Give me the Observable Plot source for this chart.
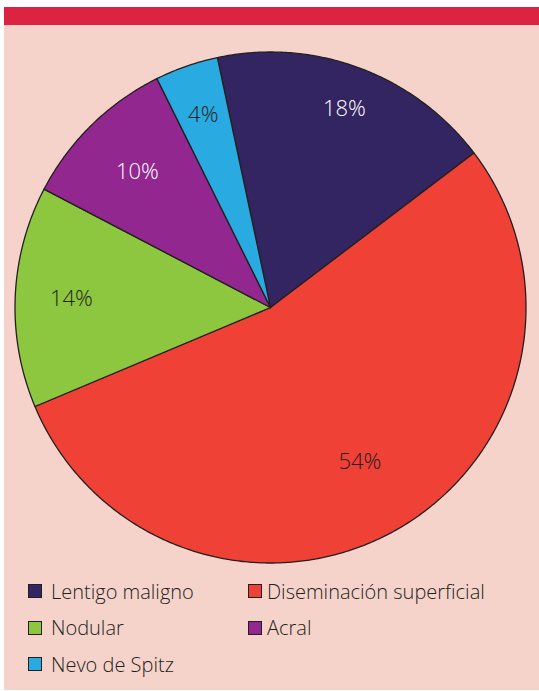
<!DOCTYPE html>
<html><head><meta charset="utf-8">
<script src="https://cdn.jsdelivr.net/npm/d3@7"></script>
<script src="https://cdn.jsdelivr.net/npm/@observablehq/plot@0.6"></script>
<style>
body{margin:0;background:#fff;font-family:"Open Sans",Lato,sans-serif;}
#panel{position:absolute;left:4px;top:7px;width:535px;height:683px;background:#f6d3ca;overflow:hidden;}
#bar{height:18px;background:#dc2340;}
#chart svg{display:block;}
#legend{display:grid;grid-template-columns:220px auto;padding-left:24px;}
.item{display:flex;align-items:center;height:36.5px;font-size:20px;font-weight:350;color:#231f20;white-space:nowrap;}
.sw{width:12px;height:12px;border:1.2px solid #231f20;margin-right:9px;flex:none;}
.col2 .sw{margin-right:5px;}
</style></head>
<body>
<div id="panel"><div id="bar"></div><div id="chart"></div><div id="legend"></div></div>
<script>
const categories = ["Lentigo maligno", "Diseminación superficial", "Nodular", "Acral", "Nevo de Spitz"];
const values = [18, 54, 14, 10, 4];
const colors = ["#332561", "#ef4136", "#8dc63f", "#92278f", "#29abe2"];
const legendOrder = ["Lentigo maligno", "Diseminación superficial", "Nodular", "Acral", "Nevo de Spitz"];

// layout
const startDeg = -12;
const labelRadius = [0.83, 0.70, 0.78, 0.745, 0.80];

const total = d3.sum(values);
let acc = startDeg;
const slices = categories.map((c, i) => {
  const a0 = acc, a1 = acc + values[i] / total * 360;
  acc = a1;
  return {key: c, value: values[i], a0, a1, mid: (a0 + a1) / 2, i};
});
const rad = d => d * Math.PI / 180;
const pts = [];
for (const s of slices) {
  pts.push({key: s.key, x: 0, y: 0});
  const n = Math.ceil((s.a1 - s.a0) / 0.5);
  for (let k = 0; k <= n; k++) {
    const t = rad(s.a0 + (s.a1 - s.a0) * k / n);
    pts.push({key: s.key, x: Math.sin(t), y: Math.cos(t)});
  }
  pts.push({key: s.key, x: 0, y: 0});
}
const labels = slices.map(s => {
  const r = labelRadius[s.i];
  const t = rad(s.mid);
  const light = d3.hsl(colors[s.i]).l < 0.4;
  return {x: r * Math.sin(t), y: r * Math.cos(t), text: s.value + "%", light};
});

const cx = 266, cy = 282, R = 255.5;
const chart = Plot.plot({
  width: 535, height: 548,
  margin: 0,
  style: {background: "transparent", fontFamily: "'Open Sans', sans-serif"},
  x: {domain: [-1, 1], range: [cx - R, cx + R], axis: null},
  y: {domain: [-1, 1], range: [cy + R, cy - R], axis: null},
  color: {domain: categories, range: colors},
  marks: [
    Plot.line(pts, {x: "x", y: "y", z: "key", fill: "key", stroke: "#231f20", strokeWidth: 1.3, strokeLinejoin: "round"}),
    Plot.text(labels.filter(d => d.light), {x: "x", y: "y", text: "text", fill: "white", fontSize: 22, fontWeight: 350}),
    Plot.text(labels.filter(d => !d.light), {x: "x", y: "y", text: "text", fill: "#231f20", fontSize: 22, fontWeight: 350})
  ]
});
document.getElementById("chart").appendChild(chart);

const leg = document.getElementById("legend");
legendOrder.forEach((c, i) => {
  const it = document.createElement("div");
  it.className = "item" + (i % 2 ? " col2" : "");
  const sw = document.createElement("span");
  sw.className = "sw";
  sw.style.background = colors[categories.indexOf(c)];
  const tx = document.createElement("span");
  tx.textContent = c;
  it.appendChild(sw); it.appendChild(tx);
  leg.appendChild(it);
});
</script>
</body></html>
